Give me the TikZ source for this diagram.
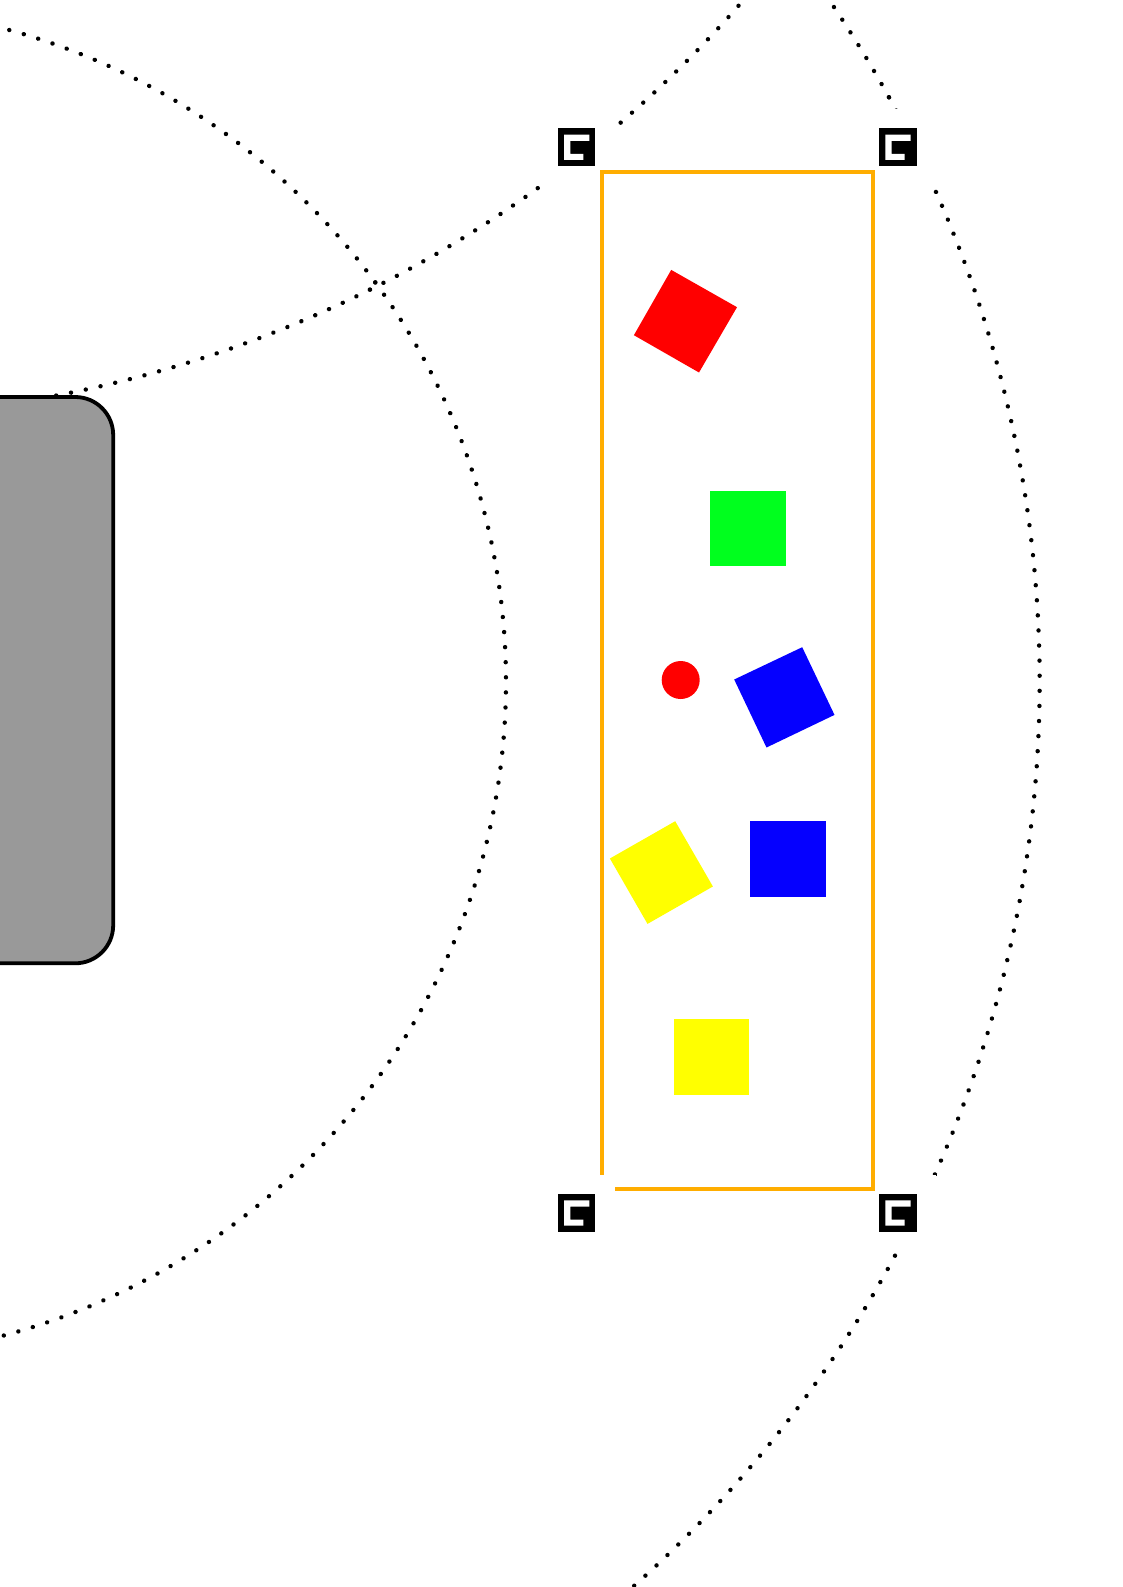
\documentclass[tikz,border=0pt]{standalone}
\definecolor{orange1}{HTML}{FFAD00}
\definecolor{green1}{HTML}{00FF1E}
\definecolor{red1}{rgb}{1,0,0}
\definecolor{blue1}{rgb}{0.02,0,1}
\definecolor{yellow1}{rgb}{1,1,0}
\definecolor{gray1}{HTML}{999999}
\tikzset{
  orbit/.style={line width=4.4pt,line cap=round,dash pattern=on 0.05pt off 15.05pt,black},
  mask/.style={fill=white,draw=none},
  body/.style={draw=black,line width=3.8pt,fill=gray1,rounded corners=38pt},
  tray/.style={draw=orange1,line width=4pt},
}
\newcommand{\orbitarc}[5]{% cx cy R from to
  \draw[orbit] plot[domain=#4:#5,samples=400,variable=\t] ({#1+#3*cos(\t)},{#2+#3*sin(\t)});
}
\begin{document}
\begin{tikzpicture}[x=1pt,y=-1pt]
\useasboundingbox (0,0) rectangle (1123,1587);
\begin{scope}
\clip (0,0) rectangle (1123,1587);
\orbitarc{-170.3}{682}{676.3}{-36.22}{80}
\orbitarc{-170.3}{682}{676.3}{-36.22}{-80}
\orbitarc{-170.3}{682}{1210}{-28.90}{50}
\orbitarc{-170.3}{682}{1210}{-28.90}{-36}
\orbitarc{-170.3}{-793}{1210}{63.48}{80}
\orbitarc{-170.3}{-793}{1210}{63.48}{40}
\fill[mask] (538.7,109) rectangle (614.7,185);
\fill[mask] (860,109) rectangle (936,185);
\fill[mask] (860,1175) rectangle (936,1251);
\draw[body] (-60,397) rectangle (113.2,963.3);
\draw[tray] (601.5,171.9) rectangle (873.3,1188.8);
\fill[red1] (671.2,269.9) -- (737,307.2) -- (699,372.5) -- (633.9,335.2) -- cycle;
\fill[green1] (710,490.6) rectangle (786,566);
\fill[red1] (680.7,680) circle[radius=19];
\fill[blue1] (734.2,679.5) -- (802.2,647.2) -- (834.5,714.9) -- (766.5,747.5) -- cycle;
\fill[yellow1] (609.9,858.5) -- (675.2,821.2) -- (712.9,886.5) -- (647.5,923.9) -- cycle;
\fill[blue1] (750,821.4) rectangle (826,897);
\fill[yellow1] (673.7,1019.3) rectangle (749.2,1095);
\fill[mask] (538.7,1175) rectangle (614.7,1251);
\foreach \x/\y in {557.7/128.3,879/128.3,557.7/1194,879/1194}{
  \fill[black] (\x,\y) rectangle ++(37.6,37.6);
  \fill[white] (\x+6.3,\y+6.3) -- ++(25.3,0) -- ++(0,6.3) -- ++(-19,0) -- ++(0,13) -- ++(13,0) -- ++(0,6) -- ++(-19.3,0) -- cycle;
}
\end{scope}
\end{tikzpicture}
\end{document}
